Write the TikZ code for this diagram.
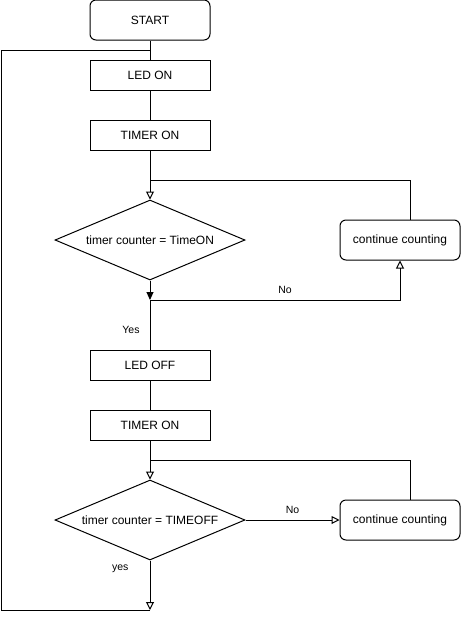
\documentclass[tikz,border=0pt]{standalone}
\usepackage{fontspec}
\setmainfont{Liberation Sans}
\usetikzlibrary{arrows.meta,shapes.geometric,positioning}

\begin{document}
\begin{tikzpicture}[x=1pt,y=-1pt,line width=1pt,
                    >={Triangle[open,length=8pt,width=8pt]},
                    font=\fontsize{12}{14}\selectfont]
  \tikzstyle{process}=[draw=black,fill=white,minimum width=120pt,
                       minimum height=30pt,inner sep=0pt]
  \tikzstyle{terminal}=[process,rounded corners=6pt,minimum height=40pt]
  \tikzstyle{decision}=[draw=black,fill=white,diamond,aspect=2.375,
                        minimum width=190pt,minimum height=80pt,inner sep=0pt]
  \tikzstyle{lbl}=[font=\fontsize{10.5}{12}\selectfont,inner sep=2pt]
  \useasboundingbox (0,0) rectangle (462,622);

  \node[terminal] (start) at (150,20) {START};
  \node[process] (ledon) [below of=start,node distance=55pt] {LED ON};
  \node[process] (timeron) [below of=ledon,node distance=60pt] {TIMER ON};
  \node[decision] (checkon) [below of=timeron,node distance=105pt]
    {timer counter = TimeON};
  \node[terminal] (waiton) [right of=checkon,node distance=250pt]
    {continue counting};
  \node[process] (ledoff) [below of=checkon,node distance=125pt] {LED OFF};
  \node[process] (timeroff) [below of=ledoff,node distance=60pt] {TIMER ON};
  \node[decision] (checkoff) [below of=timeroff,node distance=95pt]
    {timer counter = TIMEOFF};
  \node[terminal] (waitoff) [right of=checkoff,node distance=250pt]
    {continue counting};

  \coordinate (looptop) at (150,50);
  \coordinate (mergeon) at (150,180);
  \coordinate (noon) at (150,300);
  \coordinate (mergeoff) at (150,460);
  \coordinate (loopend) at (150,610);
  \coordinate (loopcorner) at (1,610);

  \draw (start) -- (ledon);
  \draw (ledon) -- (timeron);
  \draw[->] (timeron) -- (checkon);
  \draw ([xshift=10pt]waiton.north) |- (mergeon);
  \draw[-{Triangle[length=8pt,width=7pt]}] (checkon) -- (noon);
  \draw[->] (noon) -| node[lbl,above=4pt,pos=0.27] {No} (waiton);
  \draw (noon) -- node[lbl,left=8pt,pos=0.6] {Yes} (ledoff);
  \draw (ledoff) -- (timeroff);
  \draw[->] (timeroff) -- (checkoff);
  \draw[->] (checkoff) -- node[lbl,above=4pt] {No} (waitoff);
  \draw ([xshift=10pt]waitoff.north) |- (mergeoff);
  \draw[->] (checkoff) -- node[lbl,left=19pt,pos=0.16] {yes} (loopend);
  \draw (loopend) -- (loopcorner) |- (looptop);
\end{tikzpicture}
\end{document}
